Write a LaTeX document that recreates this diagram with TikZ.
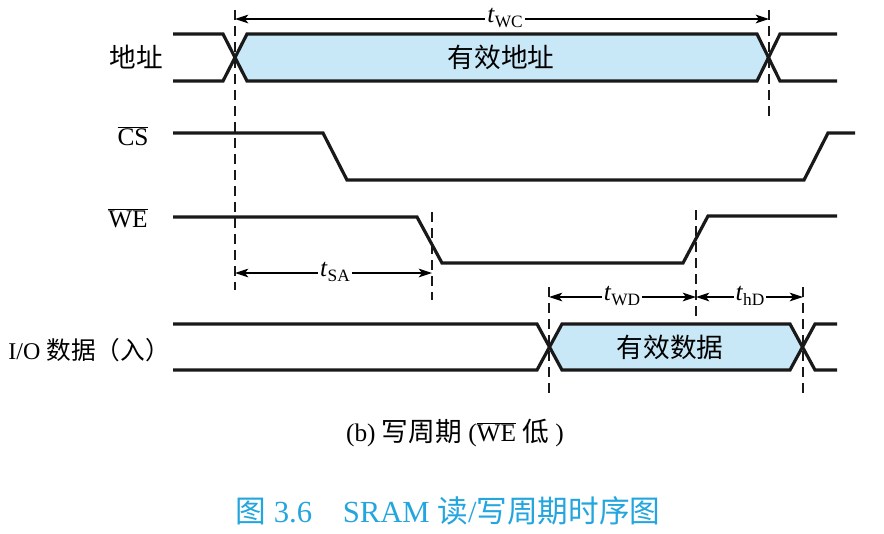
\documentclass[tikz,border=0pt]{standalone}
\usepackage{fontspec}
\setmainfont{Liberation Serif}
\newfontfamily\cjk{Noto Sans CJK SC}
\usetikzlibrary{arrows.meta}
\definecolor{validfill}{RGB}{200,232,247}
\definecolor{capblue}{RGB}{35,165,222}
\newcommand\tlab[1]{\textit{t}\raisebox{-0.45ex}{\fontsize{13}{13}\selectfont #1}}
\begin{document}
\begin{tikzpicture}[x=0.75pt,y=-0.75pt,
  sig/.style={line width=2.4pt,line join=miter,line cap=butt,black!90},
  guide/.style={line width=1.1pt,dash pattern=on 7.5pt off 4.5pt,black!90},
  dim/.style={line width=0.8pt,{Stealth[length=10pt,width=6.5pt,inset=2.5pt]}-{Stealth[length=10pt,width=6.5pt,inset=2.5pt]}},
  tl/.style={fill=white,inner sep=1.5pt,font=\fontsize{19}{19}\selectfont},
  lbl/.style={font=\fontsize{19}{19}\selectfont,inner sep=0pt},
  zh/.style={font=\cjk\fontsize{20}{20}\selectfont,inner sep=0pt}]
\useasboundingbox (0,0) rectangle (884,533);

% fills
\fill[validfill] (235,57.5)--(247,34)--(757,34)--(769,57.5)--(757,81)--(247,81)--cycle;
\fill[validfill] (549,347)--(562,324)--(790,324)--(803,347)--(790,370)--(562,370)--cycle;

% address bus
\draw[sig] (173,34)--(223,34)--(247,81)--(757,81)--(780,34)--(837,34);
\draw[sig] (173,81)--(223,81)--(247,34)--(757,34)--(780,81)--(837,81);
% CS
\draw[sig] (173,133)--(323,133)--(347,180)--(804,180)--(828,133)--(855,133);
% WE
\draw[sig] (173,217)--(417,217)--(442,263)--(683,263)--(708,216)--(837,216);
% I/O
\draw[sig] (173,324)--(537,324)--(562,370)--(790,370)--(815,324)--(837,324);
\draw[sig] (173,370)--(537,370)--(562,324)--(790,324)--(815,370)--(837,370);

% guide coordinates
\coordinate (g1t) at (235,10);   \coordinate (g1b) at (235,290);
\coordinate (g2t) at (769,10);   \coordinate (g2b) at (769,118);
\coordinate (g3t) at (432,212);  \coordinate (g3b) at (432,300);
\coordinate (g4t) at (696,210);  \coordinate (g4b) at (696,320);
\coordinate (g5t) at (549,287);  \coordinate (g5b) at (549,398);
\coordinate (g6t) at (803,287);  \coordinate (g6b) at (803,398);
\draw[guide] (g1t)--(g1b);
\draw[guide] (g2t)--(g2b);
\draw[guide] (g3t)--(g3b);
\draw[guide] (g4t)--(g4b);
\draw[guide] (g5t)--(g5b);
\draw[guide] (g6t)--(g6b);

% dimension arrows
\coordinate (wcL) at (235,19);  \coordinate (wcR) at (769,19);
\coordinate (saL) at (235,273); \coordinate (saR) at (432,273);
\coordinate (wdL) at (549,297); \coordinate (wdR) at (696,297);
\coordinate (hdL) at (696,297); \coordinate (hdR) at (803,297);
\draw[dim] (wcL)--(wcR);
\draw[dim] (saL)--(saR);
\draw[dim] (wdL)--(wdR);
\draw[dim] (hdL)--(hdR);
\node[tl] (twc) at (505,18) {\tlab{WC}};
\node[tl] (tsa) at (335,272) {\tlab{SA}};
\node[tl] (twd) at (622,296) {\tlab{WD}};
\node[tl] (thd) at (750,296) {\tlab{hD}};

% signal labels
\node[zh] (laddr) at (136,57) {地址};
\node[lbl] (lcs) at (133,136) {$\overline{\mbox{CS}}$};
\node[lbl] (lwe) at (128,218) {$\overline{\mbox{WE}}$};
\node[lbl,anchor=east,font=\fontsize{18}{18}\selectfont] (lio) at (170,350) {I/O\hspace{0.25em}{\cjk\fontsize{18.5}{18.5}\selectfont 数据（入）}};

\node[zh] (vaddr) at (501,57) {有效地址};
\node[zh] (vdata) at (670,347) {有效数据};

% captions
\node[lbl] (capb) at (455,433) {(b) {\cjk\fontsize{20}{20}\selectfont 写周期} ($\overline{\mbox{WE}}$ {\cjk\fontsize{20}{20}\selectfont 低} )};
\node[lbl,text=capblue,font=\fontsize{23}{23}\selectfont] (capfig) at (448,511) {{\cjk 图} 3.6\hspace{1.0em}SRAM {\cjk 读}/{\cjk 写周期时序图}};
\end{tikzpicture}
\end{document}
